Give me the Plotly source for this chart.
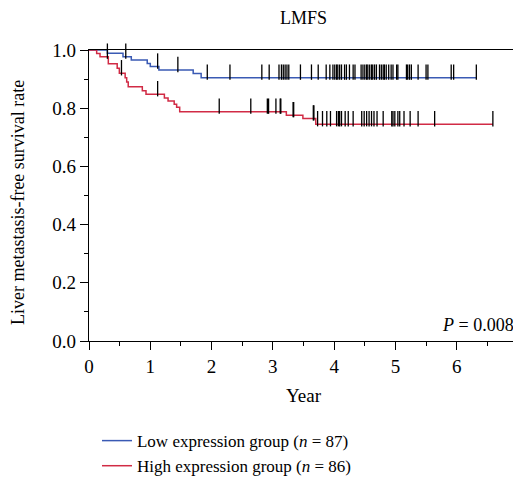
import numpy as np
import plotly.graph_objects as go

# ---- data ----
low_event_times = [0.30, 0.555, 0.69, 0.95, 1.00, 1.14, 1.70, 1.83]
low_event_surv = [0.989, 0.977, 0.966, 0.954, 0.943, 0.931, 0.919, 0.905]
low_end_time = 6.32
low_censor_times = [0.60, 1.12, 1.45, 1.93, 2.30, 2.82, 2.94, 3.10, 3.14, 3.17, 3.20, 3.23, 3.26,
                    3.45, 3.63, 3.74, 3.87, 3.93, 3.98, 4.01, 4.04, 4.06, 4.09, 4.12, 4.17, 4.20,
                    4.25, 4.31, 4.34, 4.44, 4.47, 4.50, 4.53, 4.55, 4.58, 4.61, 4.63, 4.66, 4.69,
                    4.74, 4.77, 4.80, 4.82, 4.85, 4.89, 4.93, 4.96, 5.02, 5.04, 5.18, 5.20, 5.23,
                    5.26, 5.37, 5.50, 5.53, 5.91, 5.95, 6.32]

high_event_times = [0.125, 0.18, 0.315, 0.46, 0.495, 0.59, 0.615, 0.64, 0.87, 0.93, 1.23, 1.29,
                    1.39, 1.43, 1.48, 3.22, 3.49, 3.70]
high_event_surv = [0.988, 0.977, 0.953, 0.937, 0.920, 0.905, 0.890, 0.874, 0.860, 0.848, 0.835,
                   0.825, 0.814, 0.803, 0.788, 0.776, 0.765, 0.745]
high_end_time = 6.59
high_censor_times = [0.30, 0.53, 1.12, 2.125, 2.64, 2.91, 2.93, 3.05, 3.12, 3.13, 3.33, 3.34,
                     3.66, 3.67, 3.73, 3.81, 3.88, 3.94, 4.04, 4.07, 4.09, 4.12, 4.18, 4.23, 4.31,
                     4.45, 4.49, 4.53, 4.57, 4.61, 4.65, 4.70, 4.80, 4.94, 4.96, 4.99, 5.04, 5.07,
                     5.14, 5.24, 5.37, 5.64, 6.59]

group_names = ["Low expression group (<i>n</i> = 87)", "High expression group (<i>n</i> = 86)"]
group_colors = ["#3a5ab4", "#d12b45"]
p_text = "<i>P</i> = 0.008"
y_title = "Liver metastasis-free survival rate"

FONT = "Liberation Serif, Times New Roman, serif"

# The page body has an 8px margin; size the figure so the plot lands where the reference's is.
FIG_W, FIG_H = 513, 471


def step_value(times, surv, t):
    idx = np.searchsorted(np.array(times), t, side="right")
    return 1.0 if idx == 0 else surv[idx - 1]


fig = go.Figure()
groups = [
    (low_event_times, low_event_surv, low_end_time, low_censor_times),
    (high_event_times, high_event_surv, high_end_time, high_censor_times),
]
for (et, es, end, ct), name, col in zip(groups, group_names, group_colors):
    xs = [0.0] + list(et) + [end]
    ys = [1.0] + list(es) + [es[-1]]
    fig.add_trace(go.Scatter(x=xs, y=ys, mode="lines", line=dict(shape="hv", color=col, width=1.5),
                             name=name, cliponaxis=False))
for (et, es, end, ct), col in zip(groups, group_colors):
    cy = [step_value(et, es, t) + 0.019 for t in ct]
    fig.add_trace(go.Scatter(x=ct, y=cy, mode="markers", showlegend=False, cliponaxis=False,
                             marker=dict(symbol="line-ns", size=11,
                                         line=dict(width=1.3, color="black"))))

fig.add_annotation(x=1, y=0, xref="paper", yref="paper", xanchor="right", yanchor="bottom",
                   text=p_text, showarrow=False, font=dict(family=FONT, size=18, color="black"),
                   xshift=-2, yshift=4)
fig.add_annotation(x=0, y=0.474, xref="paper", yref="paper", xanchor="center", yanchor="middle",
                   text=y_title, textangle=-90, showarrow=False, xshift=-71,
                   font=dict(family=FONT, size=18, color="black"))

axis_common = dict(showline=True, linecolor="black", linewidth=1.2, mirror=True, ticks="outside",
                   tickcolor="black", tickwidth=1.2, showgrid=False, zeroline=False, automargin=False,
                   ticklabeloverflow="allow",
                   tickfont=dict(family=FONT, size=19, color="black"))
fig.update_xaxes(range=[0, 7], tickvals=[0, 1, 2, 3, 4, 5, 6, 7], ticklen=8,
                 minor=dict(ticks="outside", tickvals=[0.5, 1.5, 2.5, 3.5, 4.5, 5.5, 6.5],
                            ticklen=4, tickcolor="black", tickwidth=1.2),
                 title=dict(text="Year", font=dict(family=FONT, size=19, color="black"), standoff=12),
                 **axis_common)
fig.update_yaxes(range=[0, 1.0], tickvals=[0, 0.2, 0.4, 0.6, 0.8, 1.0], tickformat=".1f", ticklen=8,
                 minor=dict(ticks="outside", tickvals=[0.1, 0.3, 0.5, 0.7, 0.9],
                            ticklen=4, tickcolor="black", tickwidth=1.2),
                 **axis_common)

fig.update_layout(
    width=FIG_W, height=FIG_H,
    margin=dict(l=81, r=3, t=42, b=138, autoexpand=False),
    plot_bgcolor="white", paper_bgcolor="white",
    title=dict(text="LMFS", x=0.5, xref="paper", y=1.0, yref="container",
               xanchor="center", yanchor="top", pad=dict(t=3, b=0, l=0, r=0),
               font=dict(family=FONT, size=18, color="black")),
    legend=dict(x=0.0186, y=-0.282, xanchor="left", yanchor="top",
                font=dict(family=FONT, size=17, color="black"),
                bgcolor="rgba(0,0,0,0)", tracegroupgap=0, itemwidth=30),
    showlegend=True,
)

fig.write_html("out.html")
